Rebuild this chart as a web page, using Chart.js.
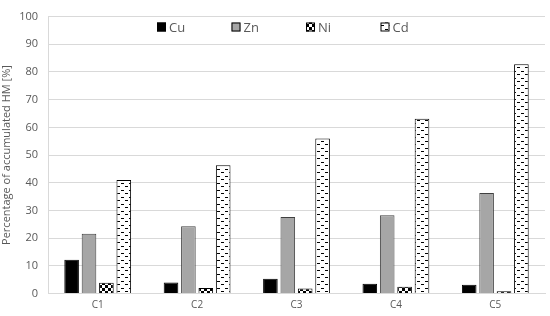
<!DOCTYPE html>
<html>
<head>
<meta charset="utf-8">
<script src="https://cdn.jsdelivr.net/npm/chart.js@4.4.1/dist/chart.umd.min.js"></script>
<style>
  html, body { margin: 0; padding: 0; background: #fff; }
  #wrap { width: 550px; height: 316px; position: relative; }
</style>
</head>
<body>
<div id="wrap"><canvas id="chart"></canvas></div>
<script>
// ── Data ─────────────────────────────────────────────
const CATEGORIES = ['C1', 'C2', 'C3', 'C4', 'C5'];
const CU = [12.2, 4.0, 5.3, 3.5, 3.2];
const ZN = [21.6, 24.3, 27.6, 28.3, 36.3];
const NI = [3.9, 2.0, 1.8, 2.4, 0.8];
const CD = [41.0, 46.3, 56.0, 63.1, 82.8];
const Y_TICKS = [0, 10, 20, 30, 40, 50, 60, 70, 80, 90, 100];

const GREY_TEXT = '#595959';

// ── Fill patterns ────────────────────────────────────
function makePattern(w, h, draw) {
  const c = document.createElement('canvas');
  c.width = w; c.height = h;
  const g = c.getContext('2d');
  g.fillStyle = '#fff';
  g.fillRect(0, 0, w, h);
  g.fillStyle = '#000';
  draw(g);
  return g.createPattern(c, 'repeat');
}
const checker = makePattern(6, 6, g => {
  g.fillRect(0, 0, 3, 3);
  g.fillRect(3, 3, 3, 3);
});
const dashes = makePattern(8, 7, g => {
  g.fillRect(1, 1, 3, 1);
  g.fillRect(5, 4, 3, 1);
});

// Legend drawn inside the plot area, Excel style
const insideLegend = {
  id: 'insideLegend',
  afterDraw(chart) {
    const { ctx } = chart;
    const startX = 157, stride = 74.5, y = 27;
    ctx.save();
    ctx.font = '13px "Open Sans"';
    ctx.textBaseline = 'middle';
    chart.data.datasets.forEach((ds, i) => {
      const x = startX + i * stride;
      ctx.fillStyle = ds.backgroundColor;
      ctx.fillRect(x, y - 4.5, 9, 9);
      ctx.strokeStyle = '#000';
      ctx.lineWidth = 1;
      ctx.strokeRect(x + 0.5, y - 4, 8, 8);
      ctx.fillStyle = GREY_TEXT;
      ctx.fillText(ds.label, x + 12, y + 1);
    });
    ctx.restore();
  }
};

window.addEventListener('DOMContentLoaded', () => {
  const ctx = document.getElementById('chart').getContext('2d');
  const common = { borderWidth: 1, categoryPercentage: 0.70, barPercentage: 0.84 };
  new Chart(ctx, {
    type: 'bar',
    plugins: [insideLegend],
    data: {
      labels: CATEGORIES,
      datasets: [
        { label: 'Cu', data: CU, backgroundColor: '#000000', borderColor: '#000000', ...common },
        { label: 'Zn', data: ZN, backgroundColor: '#a6a6a6', borderColor: '#404040', ...common },
        { label: 'Ni', data: NI, backgroundColor: checker, borderColor: '#000000', ...common },
        { label: 'Cd', data: CD, backgroundColor: dashes, borderColor: '#000000', ...common },
      ]
    },
    options: {
      responsive: true,
      maintainAspectRatio: false,
      animation: false,
      layout: { padding: { top: 6, right: 5, left: 0, bottom: 0 } },
      plugins: {
        legend: { display: false },
        tooltip: { enabled: false }
      },
      scales: {
        x: {
          grid: { display: false, drawTicks: false },
          border: { color: '#d9d9d9' },
          ticks: { font: { family: 'Open Sans', size: 10 }, color: GREY_TEXT, padding: 6 },
          afterFit(scale) { scale.height = 22.5; }
        },
        y: {
          min: 0, max: 100,
          afterBuildTicks(scale) { scale.ticks = Y_TICKS.map(v => ({ value: v })); },
          grid: { color: '#d9d9d9', drawTicks: false },
          border: { color: '#d9d9d9' },
          ticks: { font: { family: 'Open Sans', size: 11 }, color: GREY_TEXT, padding: 10 },
          title: {
            display: true,
            text: 'Percentage of accumulated HM [%]',
            font: { family: 'Open Sans', size: 11 },
            color: GREY_TEXT,
            padding: 0
          },
          afterFit(scale) { scale.width = 48; }
        }
      }
    }
  });
});
</script>
</body>
</html>
